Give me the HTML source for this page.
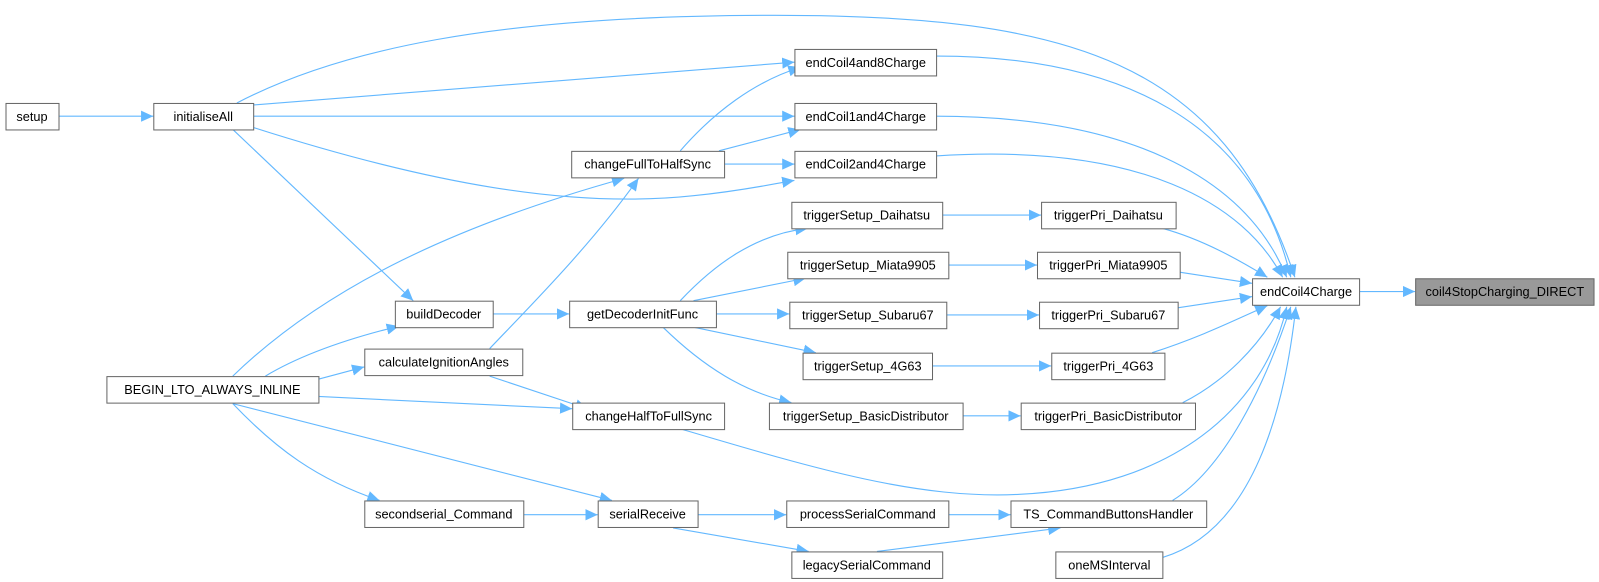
<!DOCTYPE html>
<html><head><meta charset="utf-8"><style>
html,body{margin:0;padding:0;background:#fff;width:1599px;height:582px;overflow:hidden}
svg{display:block}
text{font-family:"Liberation Sans",Arial,sans-serif;font-size:12.5px;fill:#000}
.n{fill:#fff;stroke:#666;stroke-width:1}
.e{fill:none;stroke:#63b8ff;stroke-width:1.1}
</style></head><body>
<svg width="1599" height="582" viewBox="0 0 1568 571">
<defs><marker id="a" markerUnits="userSpaceOnUse" markerWidth="13" markerHeight="11" refX="12" refY="5.5" orient="auto"><path d="M0,0 L12,5.5 L0,11 z" fill="#63b8ff"/></marker></defs>
<g class="e" marker-end="url(#a)">
<path d="M57,114 L150,114"/>
<path d="M232,101 C330,50 480,15 760,15 C1050,15 1200,60 1270,272"/>
<path d="M248,103 L779,61"/>
<path d="M248,114 L779,114"/>
<path d="M248,125 C420,180 560,205 680,192 C730,187 760,180 779,177"/>
<path d="M228,127 L405,295"/>
<path d="M667,148 C700,110 740,80 785,66"/>
<path d="M705,148 L785,127"/>
<path d="M710,161 L779,161"/>
<path d="M228,369 C320,280 450,220 612,175"/>
<path d="M480,342 C520,300 580,240 626,175"/>
<path d="M483,308 L558,308"/>
<path d="M260,369 C300,345 350,330 391,320"/>
<path d="M312,372 L357,360"/>
<path d="M480,369 L576,401"/>
<path d="M312,389 L561,401"/>
<path d="M228,396 L600,491"/>
<path d="M228,396 C270,440 310,470 372,491"/>
<path d="M513,505 L586,505"/>
<path d="M684,505 L771,505"/>
<path d="M660,518 L793,541"/>
<path d="M930,505 L991,505"/>
<path d="M860,541 L1040,518"/>
<path d="M667,295 C700,260 740,230 792,224"/>
<path d="M680,295 L790,273"/>
<path d="M702,308 L774,308"/>
<path d="M680,321 L800,346"/>
<path d="M650,321 C690,360 730,385 776,395"/>
<path d="M924,211 L1021,211"/>
<path d="M930,260 L1017,260"/>
<path d="M928,309 L1019,309"/>
<path d="M914,359 L1031,359"/>
<path d="M944,408 L1001,408"/>
<path d="M1140,224 C1180,235 1215,255 1243,272"/>
<path d="M1157,267 L1228,278"/>
<path d="M1155,302 L1228,291"/>
<path d="M1130,346 C1180,330 1215,312 1243,300"/>
<path d="M1160,395 C1200,375 1235,340 1256,301"/>
<path d="M668,421 C800,460 900,490 1000,485 C1150,478 1240,400 1262,301"/>
<path d="M1150,491 C1200,460 1240,380 1266,301"/>
<path d="M1140,547 C1230,520 1260,400 1271,301"/>
<path d="M918,55 C1100,55 1230,120 1266,272"/>
<path d="M918,114 C1100,114 1220,170 1262,272"/>
<path d="M918,153 C1120,140 1220,200 1258,272"/>
<path d="M1333,286 L1388,286"/>
</g>
<g>
<rect class="n" x="5.5" y="101.5" width="52" height="26"/><text x="31" y="118.5" text-anchor="middle">setup</text>
<rect class="n" x="150.5" y="101.5" width="98" height="26"/><text x="199" y="118.5" text-anchor="middle">initialiseAll</text>
<rect class="n" x="560.5" y="148.5" width="150" height="26"/><text x="635" y="165.5" text-anchor="middle">changeFullToHalfSync</text>
<rect class="n" x="387.5" y="295.5" width="96" height="26"/><text x="435" y="312.5" text-anchor="middle">buildDecoder</text>
<rect class="n" x="558.5" y="295.5" width="144" height="26"/><text x="630" y="312.5" text-anchor="middle">getDecoderInitFunc</text>
<rect class="n" x="104.5" y="369.5" width="208" height="26"/><text x="208" y="386.5" text-anchor="middle">BEGIN_LTO_ALWAYS_INLINE</text>
<rect class="n" x="357.5" y="342.5" width="155" height="26"/><text x="435" y="359.5" text-anchor="middle">calculateIgnitionAngles</text>
<rect class="n" x="561.5" y="395.5" width="149" height="26"/><text x="636" y="412.5" text-anchor="middle">changeHalfToFullSync</text>
<rect class="n" x="357.5" y="491.5" width="156" height="26"/><text x="435" y="508.5" text-anchor="middle">secondserial_Command</text>
<rect class="n" x="586.5" y="491.5" width="98" height="26"/><text x="635" y="508.5" text-anchor="middle">serialReceive</text>
<rect class="n" x="779.5" y="48.5" width="139" height="26"/><text x="849" y="65.5" text-anchor="middle">endCoil4and8Charge</text>
<rect class="n" x="779.5" y="101.5" width="139" height="26"/><text x="849" y="118.5" text-anchor="middle">endCoil1and4Charge</text>
<rect class="n" x="779.5" y="148.5" width="139" height="26"/><text x="849" y="165.5" text-anchor="middle">endCoil2and4Charge</text>
<rect class="n" x="776.5" y="198.5" width="148" height="26"/><text x="850" y="215.5" text-anchor="middle">triggerSetup_Daihatsu</text>
<rect class="n" x="772.5" y="247.5" width="158" height="26"/><text x="851" y="264.5" text-anchor="middle">triggerSetup_Miata9905</text>
<rect class="n" x="774.5" y="296.5" width="154" height="26"/><text x="851" y="313.5" text-anchor="middle">triggerSetup_Subaru67</text>
<rect class="n" x="787.5" y="346.5" width="127" height="26"/><text x="851" y="363.5" text-anchor="middle">triggerSetup_4G63</text>
<rect class="n" x="754.5" y="395.5" width="190" height="26"/><text x="849" y="412.5" text-anchor="middle">triggerSetup_BasicDistributor</text>
<rect class="n" x="771.5" y="491.5" width="159" height="26"/><text x="851" y="508.5" text-anchor="middle">processSerialCommand</text>
<rect class="n" x="776.5" y="541.5" width="148" height="26"/><text x="850" y="558.5" text-anchor="middle">legacySerialCommand</text>
<rect class="n" x="1021.5" y="198.5" width="132" height="26"/><text x="1087" y="215.5" text-anchor="middle">triggerPri_Daihatsu</text>
<rect class="n" x="1017.5" y="247.5" width="140" height="26"/><text x="1087" y="264.5" text-anchor="middle">triggerPri_Miata9905</text>
<rect class="n" x="1019.5" y="296.5" width="136" height="26"/><text x="1087" y="313.5" text-anchor="middle">triggerPri_Subaru67</text>
<rect class="n" x="1031.5" y="346.5" width="111" height="26"/><text x="1087" y="363.5" text-anchor="middle">triggerPri_4G63</text>
<rect class="n" x="1001.5" y="395.5" width="171" height="26"/><text x="1087" y="412.5" text-anchor="middle">triggerPri_BasicDistributor</text>
<rect class="n" x="991.5" y="491.5" width="192" height="26"/><text x="1087" y="508.5" text-anchor="middle">TS_CommandButtonsHandler</text>
<rect class="n" x="1035.5" y="541.5" width="105" height="26"/><text x="1088" y="558.5" text-anchor="middle">oneMSInterval</text>
<rect class="n" x="1228.5" y="273.5" width="105" height="26"/><text x="1281" y="290.5" text-anchor="middle">endCoil4Charge</text>
<rect x="1388.5" y="273.5" width="175" height="26" fill="#999" stroke="#666"/><text x="1476" y="290.5" text-anchor="middle">coil4StopCharging_DIRECT</text>
</g>
</svg>
</body></html>
